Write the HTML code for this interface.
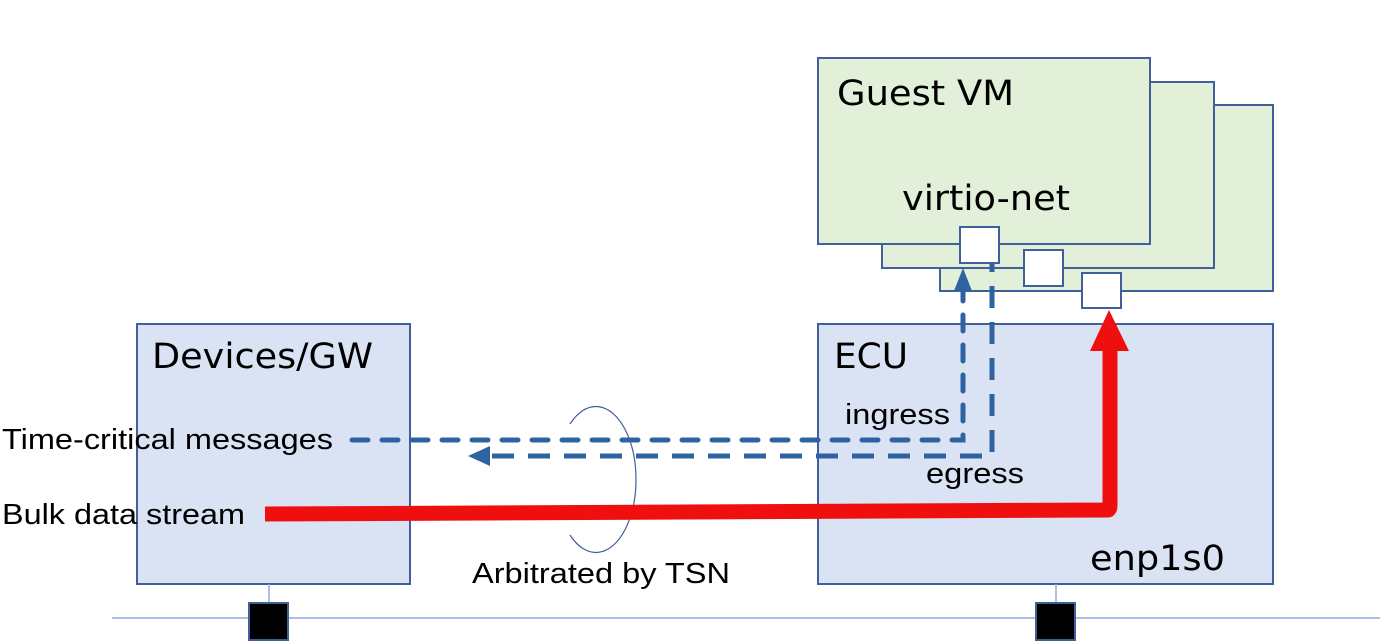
<!DOCTYPE html>
<html><head><meta charset="utf-8"><style>html,body{margin:0;padding:0;background:#fff}svg{display:block}</style></head>
<body>
<svg width="1384" height="643" viewBox="0 0 1384 643" xmlns="http://www.w3.org/2000/svg" font-family="DejaVu Sans, sans-serif">
<rect x="940" y="105" width="333" height="186" fill="#e2efd9" stroke="#41609a" stroke-width="2"/>
<rect x="882" y="82" width="332" height="186" fill="#e2efd9" stroke="#41609a" stroke-width="2"/>
<rect x="818" y="58" width="332" height="186" fill="#e2efd9" stroke="#41609a" stroke-width="2"/>
<text x="837" y="105" font-size="35" textLength="177" lengthAdjust="spacingAndGlyphs">Guest VM</text>
<text x="902" y="210" font-size="35" textLength="168" lengthAdjust="spacingAndGlyphs">virtio-net</text>
<rect x="960" y="227" width="39" height="36" fill="#fff" stroke="#41609a" stroke-width="2"/>
<rect x="1024" y="250" width="39" height="36" fill="#fff" stroke="#41609a" stroke-width="2"/>
<rect x="1082" y="273" width="39" height="35" fill="#fff" stroke="#41609a" stroke-width="2"/>
<rect x="818" y="324" width="455" height="260" fill="#dae3f3" stroke="#41609a" stroke-width="2"/>
<rect x="137" y="324" width="273" height="260" fill="#dae3f3" stroke="#41609a" stroke-width="2"/>
<line x1="112" y1="618" x2="1380" y2="618" stroke="#8faadc" stroke-width="1.5"/>
<line x1="269" y1="584" x2="269" y2="602" stroke="#8faadc" stroke-width="1.5"/>
<line x1="1056" y1="584" x2="1056" y2="602" stroke="#8faadc" stroke-width="1.5"/>
<rect x="249" y="603" width="39" height="37" fill="#000" stroke="#41609a" stroke-width="2"/>
<rect x="1036" y="603" width="39" height="37" fill="#000" stroke="#41609a" stroke-width="2"/>
<text x="152" y="368" font-size="35" textLength="221" lengthAdjust="spacingAndGlyphs">Devices/GW</text>
<text x="834" y="368" font-size="35" textLength="74" lengthAdjust="spacingAndGlyphs">ECU</text>
<text x="1090" y="570" font-size="35" textLength="135" lengthAdjust="spacingAndGlyphs">enp1s0</text>
<g font-family="Liberation Sans, sans-serif" font-size="29">
<text x="845" y="424" textLength="105" lengthAdjust="spacingAndGlyphs">ingress</text>
<text x="926" y="483" textLength="98" lengthAdjust="spacingAndGlyphs">egress</text>
<text x="2" y="449" textLength="331" lengthAdjust="spacingAndGlyphs">Time-critical messages</text>
<text x="2" y="524" textLength="243" lengthAdjust="spacingAndGlyphs">Bulk data stream</text>
<text x="472" y="583" textLength="258" lengthAdjust="spacingAndGlyphs">Arbitrated by TSN</text>
</g>
<g stroke="#2e62a0" stroke-width="5" fill="none">
<path d="M352 440 H963 V292" stroke-dasharray="16 14" stroke-linecap="round"/>
<path d="M492 456 H992 V264" stroke-dasharray="22 14"/>
</g>
<polygon points="963,268 954,291 972,291" fill="#2e62a0"/>
<polygon points="468,456 490,446 490,466" fill="#2e62a0"/>
<path d="M570 424 A40 73 0 1 1 570 535" fill="none" stroke="#41609a" stroke-width="1.2"/>
<path d="M265 514 L1108 510 Q1110 510 1110 505 V348" fill="none" stroke="#f00f0f" stroke-width="15" stroke-linejoin="round"/>
<polygon points="1109,310 1090,351 1129,351" fill="#f00f0f"/>
</svg>
</body></html>
